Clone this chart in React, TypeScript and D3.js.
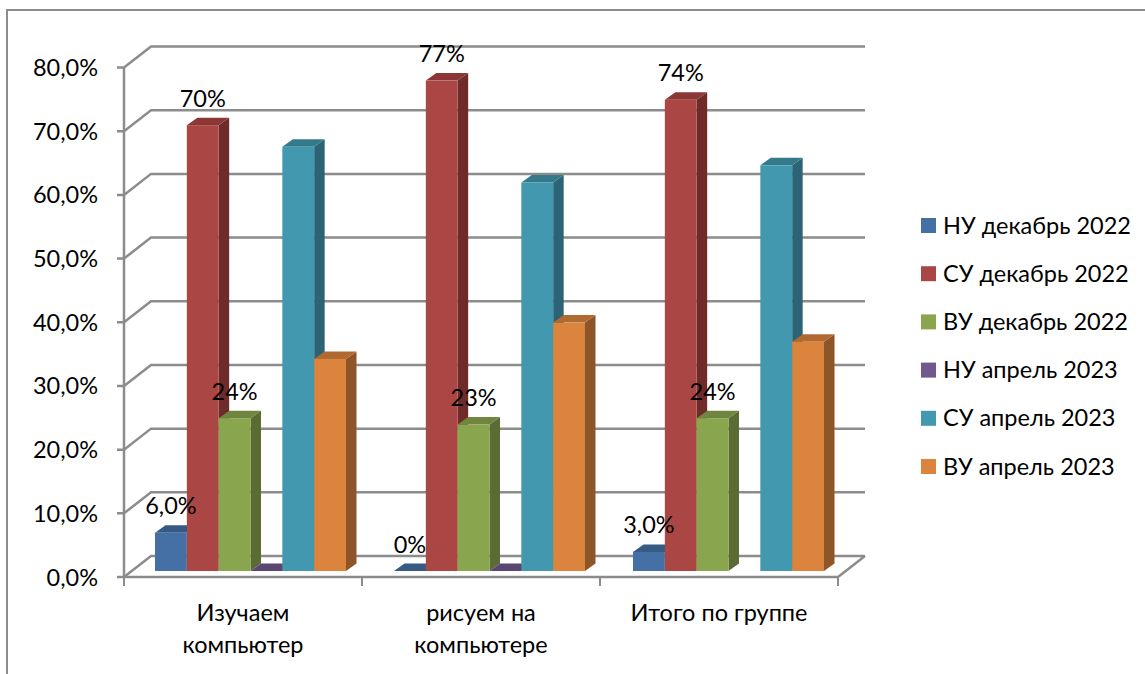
import * as d3 from 'd3';

const categories = [['Изучаем', 'компьютер'], ['рисуем на', 'компьютере'], ['Итого по группе']];
const categoryKeys = ['a', 'b', 'c'];
const seriesNames = ['НУ декабрь 2022', 'СУ декабрь 2022', 'ВУ декабрь 2022', 'НУ апрель 2023', 'СУ апрель 2023', 'ВУ апрель 2023'];
const nuDec = [6, 0, 3];
const suDec = [70, 77, 74];
const vuDec = [24, 23, 24];
const nuApr = [0, 0, null];
const suApr = [66.6, 61, 63.7];
const vuApr = [33.3, 39, 36];
const seriesValues = [nuDec, suDec, vuDec, nuApr, suApr, vuApr];
const barLabels: (string | null)[][] = [
  ['6,0%', '0%', '3,0%'],
  ['70%', '77%', '74%'],
  ['24%', '23%', '24%'],
  [null, null, null],
  [null, null, null],
  [null, null, null],
];
const yTicks = [0, 10, 20, 30, 40, 50, 60, 70, 80];
const front = ['#4470a5', '#aa4643', '#89a54e', '#71588f', '#4198af', '#db843d'];
const top = ['#355a84', '#8a3735', '#6f8540', '#5a4672', '#347a8c', '#b06a30'];
const side = ['#2f4f75', '#6e2b2a', '#5a6b33', '#4b3a60', '#2c6476', '#8e5528'];

const GRAY = '#8c8c8c';
const FONT = 'Lato, sans-serif';
const FS = 23.5;
const depthX = 27, depthY = 21; // wall offset
const barDX = 10.5, barDY = 7.5; // bar depth
const floorDX = 7, floorDY = 6; // bars sit a bit behind the front edge

const x = d3.scaleBand<string>().domain(categoryKeys).range([124, 838]);
// bars drift a touch wider than the axis ticks in the original
const xBars = d3.scaleBand<string>().domain(categoryKeys).range([124, 841]);
const y = d3.scaleLinear().domain([0, 80]).range([577, 67.5]);
const inner = d3.scaleBand<number>().domain(d3.range(6)).range([24, 215]);

export default function App() {
  const bw = inner.bandwidth();
  const fmt = (t: number) => `${t.toFixed(1).replace('.', ',')}%`;
  return (
    <svg width={1145} height={674} style={{ position: 'absolute', left: 0, top: 0, background: '#fff' }} fontFamily={FONT}>
      <path d="M7,674V10H1145" fill="none" stroke={GRAY} strokeWidth={2} />

      {yTicks.map((t) => (
        <g key={t}>
          <path d={`M117,${y(t)}H124L${124 + depthX},${y(t) - depthY}H${838 + depthX}`} fill="none" stroke={GRAY} strokeWidth={2.5} />
          <text x={98} y={y(t) + 8.5} textAnchor="end" fontSize={FS} fill="#000">{fmt(t)}</text>
        </g>
      ))}
      <line x1={124} x2={124} y1={y(80)} y2={y(0)} stroke={GRAY} strokeWidth={2.5} />
      <path d={`M124,${y(0)}H838L${838 + depthX},${y(0) - depthY}`} fill="none" stroke={GRAY} strokeWidth={2.5} />
      {[...categoryKeys.map((k) => x(k)!), 838].map((p) => (
        <line key={p} x1={p} x2={p} y1={y(0)} y2={y(0) + 9} stroke={GRAY} strokeWidth={2} />
      ))}

      {categoryKeys.map((k, c) => (
        <g key={k}>
          {seriesValues.map((vals, s) => {
            const v = vals[c];
            if (v === null) return null;
            const x0 = xBars(k)! + inner(s)! + floorDX;
            const x1 = x0 + bw;
            const yb = y(0) - floorDY;
            const yt = y(v) - floorDY;
            return (
              <g key={s}>
                <path d={`M${x1},${yt}L${x1 + barDX},${yt - barDY}V${yb - barDY}L${x1},${yb}Z`} fill={side[s]} />
                <path d={`M${x0},${yt}L${x0 + barDX},${yt - barDY}H${x1 + barDX}L${x1},${yt}Z`} fill={top[s]} />
                {v > 0 && <rect x={x0} y={yt} width={bw} height={yb - yt} fill={front[s]} />}
              </g>
            );
          })}
        </g>
      ))}

      {categoryKeys.map((k, c) =>
        seriesValues.map((vals, s) => {
          const v = vals[c];
          const label = barLabels[s][c];
          if (v === null || !label) return null;
          return (
            <text key={`${k}${s}`} x={xBars(k)! + inner(s)! + floorDX + bw / 2} y={y(v) - floorDY - 18.5} textAnchor="middle" fontSize={FS} fill="#000">{label}</text>
          );
        })
      )}

      {categories.map((lines, c) => (
        <text key={c} textAnchor="middle" fontSize={FS} fill="#000">
          {lines.map((l, i) => (
            <tspan key={l} x={x(categoryKeys[c])! + x.bandwidth() / 2} y={621 + i * 32}>{l}</tspan>
          ))}
        </text>
      ))}

      {seriesNames.map((name, i) => {
        const ly = d3.scaleLinear().domain([0, 5]).range([225.5, 466.5])(i);
        return (
          <g key={name}>
            <rect x={921} y={ly - 7.5} width={15} height={15} fill={front[i]} />
            <text x={943} y={ly + 8} fontSize={FS} fill="#000">{name}</text>
          </g>
        );
      })}
    </svg>
  );
}
